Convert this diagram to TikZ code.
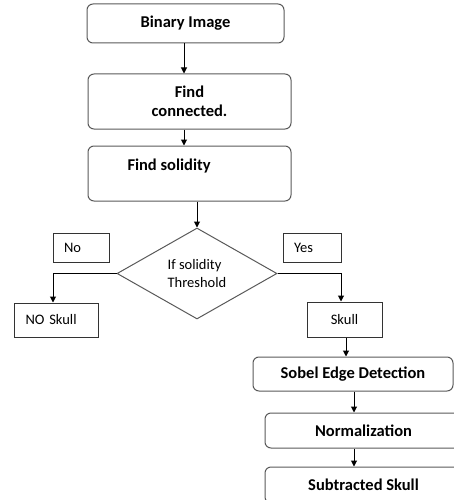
\documentclass[tikz,border=0pt]{standalone}
\usepackage{fontspec}
\setmainfont{Carlito}
\usetikzlibrary{shapes.geometric,arrows.meta}
\begin{document}
\fontsize{14.5pt}{18pt}\selectfont
\begin{tikzpicture}[x=1pt,y=-1pt,line width=1pt,
    stepbox/.style={draw=black!65,rounded corners=6pt,font=\fontsize{16.5pt}{18.5pt}\selectfont\bfseries,inner sep=0pt},
    plainbox/.style={draw=black!80,inner ysep=0pt,inner xsep=11pt,align=left},
    arr/.style={-{Triangle[length=6pt,width=6pt]},black}]
    \useasboundingbox (0,0) rectangle (454,500);
    % main column
    \node[stepbox,minimum width=197pt,minimum height=39pt] (bin) at (185.5,23.5) {Binary Image};
    \node[stepbox,minimum width=203pt,minimum height=55pt,align=center] (conn) at (189.5,101.5) {Find\\connected.};
    \node[stepbox,minimum width=203pt,minimum height=55pt] (sol) at (189.5,173.5) {};
    \node[font=\fontsize{16.5pt}{18.5pt}\selectfont\bfseries,anchor=west,inner sep=0pt] (soltxt) at (127,166) {Find solidity};
    \node[draw=black!65,diamond,aspect=1.8,minimum width=160pt,minimum height=91pt,inner sep=0pt,align=left] (dec) at (197,273.5) {If solidity\\Threshold};
    % branches
    \node[plainbox,text width=34pt,minimum height=29pt] (no) at (81,247.5) {No};
    \node[plainbox,text width=36pt,minimum height=29pt] (yes) at (312,247.5) {Yes};
    \node[plainbox,text width=62pt,minimum height=34pt] (noskull) at (56.5,320) {NO Skull};
    \node[plainbox,text width=53pt,minimum height=35pt,align=center] (skull) at (344.5,319.5) {Skull};
    % lower column
    \node[stepbox,minimum width=200pt,minimum height=34pt] (sobel) at (353,374) {Sobel Edge Detection};
    \node[stepbox,minimum width=197pt,minimum height=35pt] (norm) at (363.5,430.5) {Normalization};
    \node[stepbox,minimum width=197pt,minimum height=36pt] (sub) at (363.5,485) {Subtracted Skull};
    % connectors
    \draw[arr] ([xshift=-1.5pt]bin.south) -- ([xshift=-1.5pt]bin.south |- conn.north);
    \draw[arr] ([xshift=-5.5pt]conn.south) -- ([xshift=-5.5pt]conn.south |- sol.north);
    \draw[arr] (sol.south -| dec.north) -- (dec.north);
    \draw[arr] (dec.west) -| ([xshift=-3.5pt]noskull.north);
    \draw[arr] (dec.east) -| ([xshift=-3.5pt]skull.north);
    \draw[arr] ([xshift=1.5pt]skull.south) -- ([xshift=1.5pt]skull.south |- sobel.north);
    \draw[arr] ([xshift=1pt]sobel.south) -- ([xshift=1pt]sobel.south |- norm.north);
    \draw[arr] (norm.south -| sobel.south) ++(1pt,0) -- ([xshift=1pt]sobel.south |- sub.north);
\end{tikzpicture}
\end{document}
